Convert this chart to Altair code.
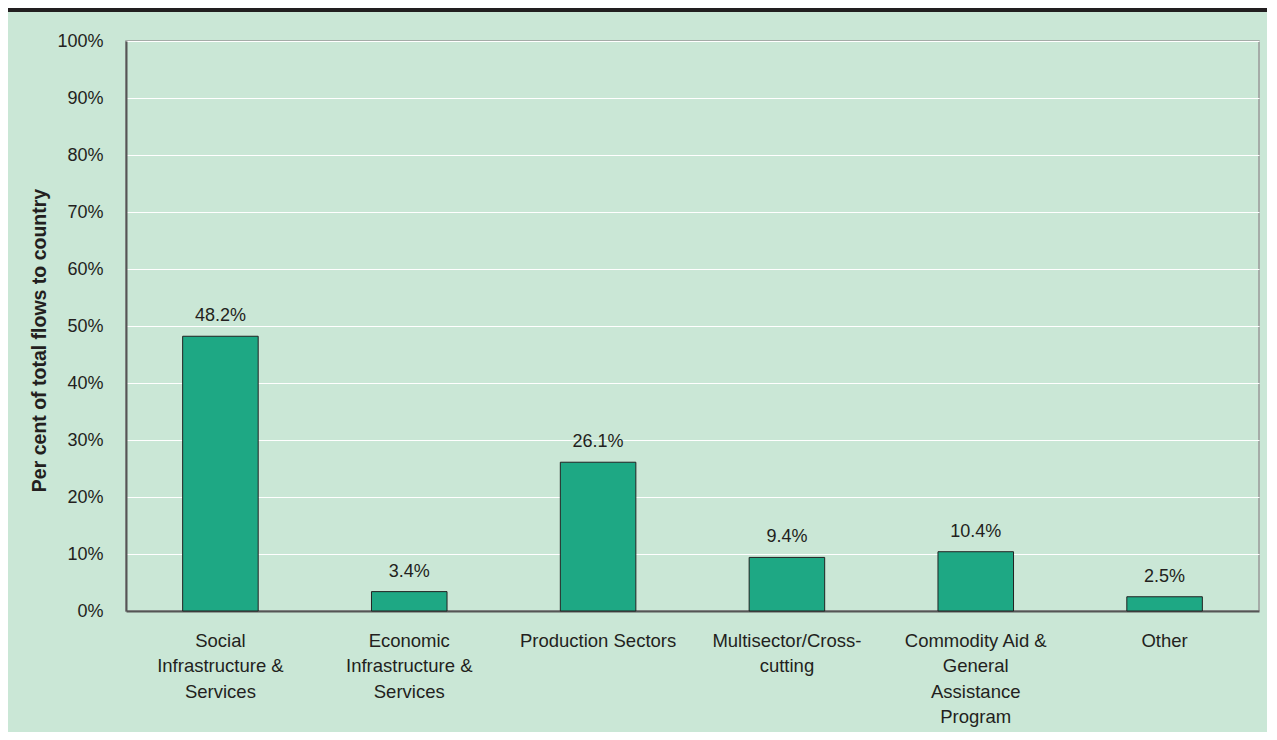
import altair as alt
import pandas as pd

categories = [
    "Social\nInfrastructure &\nServices",
    "Economic\nInfrastructure &\nServices",
    "Production Sectors",
    "Multisector/Cross-\ncutting",
    "Commodity Aid &\nGeneral\nAssistance\nProgram",
    "Other",
]
values = [48.2, 3.4, 26.1, 9.4, 10.4, 2.5]
value_labels = ["48.2%", "3.4%", "26.1%", "9.4%", "10.4%", "2.5%"]
y_ticks = [0, 10, 20, 30, 40, 50, 60, 70, 80, 90, 100]

df = pd.DataFrame({"cat": categories, "val": values, "lbl": value_labels})

FONT = "Liberation Sans"
BG = "#cae7d6"
BAR = "#1ea884"
TXT = "#231f20"

x_enc = alt.X(
    "cat:N",
    sort=categories,
    scale=alt.Scale(paddingInner=0.6, paddingOuter=0.3),
    axis=alt.Axis(
        title=None,
        labelAngle=0,
        labelExpr="split(datum.label, '\\n')",
        labelLineHeight=25.5,
        labelFontSize=18.5,
        labelPadding=20,
        labelColor=TXT,
        labelFont=FONT,
        ticks=False,
        domainColor="#555555",
        domainWidth=2,
        grid=False,
    ),
)

y_enc = alt.Y(
    "val:Q",
    scale=alt.Scale(domain=[0, 100], nice=False),
    axis=alt.Axis(
        title="Per cent of total flows to country",
        values=y_ticks,
        labelExpr="datum.value + '%'",
        labelFontSize=18,
        labelColor=TXT,
        labelFont=FONT,
        labelPadding=23,
        ticks=False,
        domainColor="#555555",
        domainWidth=2,
        gridColor="#ffffff",
        gridWidth=1,
        titleFont=FONT,
        titleFontSize=19.5,
        titleFontWeight="bold",
        titleColor=TXT,
        titleAngle=-90,
        titleAlign="center",
        titleBaseline="alphabetic",
        titleX=-81,
        titleY=299,
    ),
)

base = alt.Chart(df)

bars = base.mark_bar(color=BAR, stroke="#222222", strokeWidth=1).encode(x=x_enc, y=y_enc)

text = base.mark_text(
    dy=-11, baseline="bottom", fontSize=18, font=FONT, color=TXT
).encode(x=alt.X("cat:N", sort=categories), y="val:Q", text="lbl:N")

band = alt.Chart(alt.Data(values=[{"a": 1}])).mark_rect(color="#221f20").encode(
    x=alt.value(-118), x2=alt.value(1141), y=alt.value(-33), y2=alt.value(-29)
)

chart = (
    alt.layer(bars, text, band)
    .properties(
        width=1133,
        height=570,
        background=BG,
        padding={"left": 118, "top": 33, "right": 8, "bottom": 121},
        autosize=alt.AutoSizeParams(type="none"),
    )
    .configure_view(stroke="#999999", strokeWidth=1.5)
)

chart.save("out.html", embed_options={"renderer": "svg", "actions": False})
